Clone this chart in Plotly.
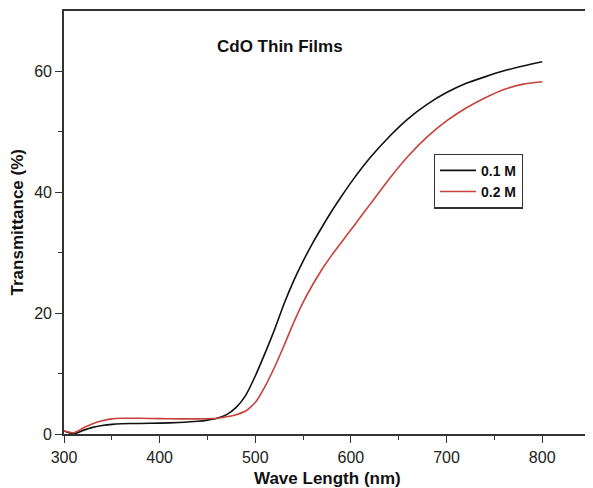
import plotly.graph_objects as go

wl_01 = [300, 310, 320, 330, 340, 350, 360, 380, 400, 420, 440, 450, 460, 470, 480, 490,
         500, 510, 520, 530, 540, 550, 560, 570, 580, 590, 600, 620, 640, 660, 680, 700,
         720, 740, 760, 780, 800]
t_01 = [0.5, 0.0, 0.6, 1.1, 1.4, 1.6, 1.7, 1.75, 1.8, 1.9, 2.1, 2.3, 2.6, 3.2, 4.4, 6.4,
        9.6, 13.3, 17.2, 21.5, 25.3, 28.6, 31.6, 34.3, 36.9, 39.3, 41.6, 45.7, 49.2, 52.2,
        54.6, 56.5, 58.0, 59.1, 60.1, 60.9, 61.6]

wl_02 = [300, 310, 320, 330, 340, 350, 360, 380, 400, 420, 440, 460, 470, 480, 490, 500,
         510, 520, 530, 540, 550, 560, 570, 580, 590, 600, 610, 620, 640, 660, 680, 700,
         720, 740, 760, 780, 800]
t_02 = [0.5, 0.2, 1.0, 1.7, 2.2, 2.5, 2.6, 2.6, 2.55, 2.5, 2.5, 2.6, 2.85, 3.2, 3.8, 5.2,
        7.8, 11.0, 14.6, 18.4, 21.8, 24.7, 27.3, 29.6, 31.7, 33.8, 35.9, 38.0, 42.2, 46.0,
        49.2, 51.8, 53.9, 55.6, 57.0, 57.9, 58.3]

labels = ["0.1 M", "0.2 M"]
colors = ["#111111", "#c8413a"]

fig = go.Figure()
fig.add_trace(go.Scatter(x=wl_01, y=t_01, mode="lines", name=labels[0],
                         line=dict(color=colors[0], width=1.6, shape="spline", smoothing=0.5)))
fig.add_trace(go.Scatter(x=wl_02, y=t_02, mode="lines", name=labels[1],
                         line=dict(color=colors[1], width=1.6, shape="spline", smoothing=0.5)))

FONT = "Liberation Sans, Arial, sans-serif"
axis_font = dict(family=FONT, size=16, color="#222")
fig.update_layout(
    width=585, height=480,
    margin=dict(l=56, r=3, t=1, b=54),
    paper_bgcolor="white", plot_bgcolor="white",
    showlegend=True,
    legend=dict(x=0.703, y=0.663, xanchor="left", yanchor="top",
                bordercolor="#333", borderwidth=1.2, bgcolor="white",
                font=dict(family=FONT, size=14, color="#111", weight="bold"),
                tracegroupgap=0, itemwidth=36),
    xaxis=dict(range=[300, 850], tickvals=[300, 400, 500, 600, 700, 800],
               ticks="outside", ticklen=7, tickwidth=1.3, tickcolor="#333",
               ticklabelstandoff=1,
               showline=True, linecolor="#333", linewidth=1.6, mirror=True,
               showgrid=False, zeroline=False, tickfont=axis_font,
               minor=dict(tickvals=[350, 450, 550, 650, 750, 850], ticks="outside",
                          ticklen=4, tickwidth=1.2, tickcolor="#333")),
    yaxis=dict(range=[0, 70], tickvals=[0, 20, 40, 60],
               ticks="outside", ticklen=7, tickwidth=1.3, tickcolor="#333",
               showline=True, linecolor="#333", linewidth=1.6, mirror=False,
               showgrid=False, zeroline=False, tickfont=axis_font,
               minor=dict(tickvals=[10, 30, 50], ticks="outside",
                          ticklen=4, tickwidth=1.2, tickcolor="#333")),
    annotations=[
        dict(text="<b>CdO Thin Films</b>", xref="paper", yref="paper", x=0.41, y=0.915,
             xanchor="center", yanchor="middle", showarrow=False,
             font=dict(family=FONT, size=17, color="#111")),
        dict(text="<b>Wave Length (nm)</b>", xref="paper", yref="paper", x=0.5, y=-0.106,
             xanchor="center", yanchor="middle", showarrow=False,
             font=dict(family=FONT, size=17, color="#111")),
        dict(text="<b>Transmittance (%)</b>", xref="paper", yref="paper", x=-0.0875, y=0.5,
             xanchor="center", yanchor="middle", showarrow=False, textangle=-90,
             font=dict(family=FONT, size=17, color="#111")),
    ],
)

fig.write_html("out.html")
